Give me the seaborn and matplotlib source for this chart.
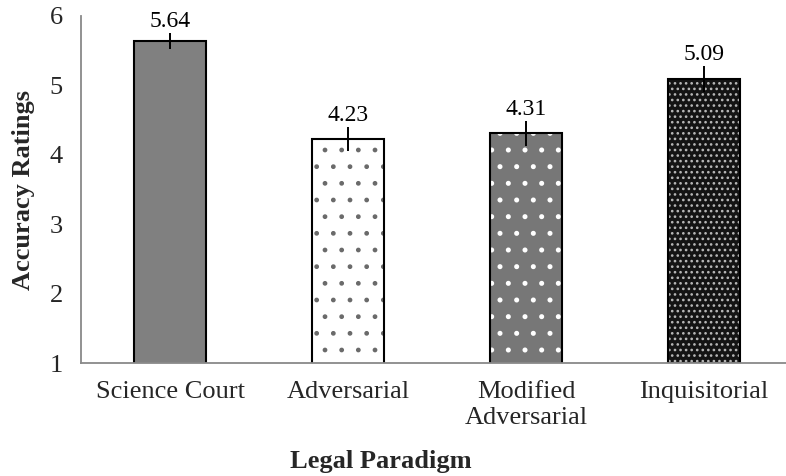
import matplotlib
matplotlib.use("Agg")
import matplotlib.pyplot as plt
import matplotlib.colors as mcolors
import seaborn as sns
import numpy as np
import pandas as pd

categories = ["Science Court", "Adversarial", "Modified\nAdversarial", "Inquisitorial"]
means = [5.64, 4.23, 4.31, 5.09]
errors = [0.12, 0.17, 0.18, 0.19]
labels = ["5.64", "4.23", "4.31", "5.09"]
yticks = [1, 2, 3, 4, 5, 6]

sns.set_theme(style="white")
plt.rcParams['font.family'] = ['Liberation Serif', 'DejaVu Serif']

df = pd.DataFrame({"cat": categories, "val": means})

W, H = 786, 476
fig = plt.figure(figsize=(W / 100, H / 100), dpi=100)
ax = fig.add_axes([81 / W, 1 - 363 / H, 712 / W, (363 - 16) / H])

sns.barplot(data=df, x="cat", y="val", ax=ax, width=0.41, errorbar=None,
            color="#808080", edgecolor="black", linewidth=1.5)

styles = [
    dict(face="#808080", hatch=None, hcol="black", hlw=1.0),
    dict(face="white", hatch=".", hcol="#6a6a6a", hlw=1.0),
    dict(face="#777777", hatch=".", hcol="white", hlw=1.2),
    dict(face="#141414", hatch="...", hcol="#b8b8b8", hlw=1.1),
]
for p, st in zip(ax.patches, styles):
    p.set_facecolor(st["face"])
    p.set_edgecolor("black")
    if st["hatch"]:
        p.set_hatch(st["hatch"])
        p._hatch_color = mcolors.to_rgba(st["hcol"])
        try:
            p.set_hatch_linewidth(st["hlw"])
        except Exception:
            p._hatch_linewidth = st["hlw"]

x = np.arange(len(categories))
ax.errorbar(x, means, yerr=errors, fmt="none", ecolor="black", elinewidth=1.4, capsize=0, zorder=5)
for xi, m, e, lab in zip(x, means, errors, labels):
    ax.annotate(lab, (xi, m + e), xytext=(0, 4), textcoords="offset points",
                ha="center", va="baseline", fontsize=17, color="black")

ax.set_ylim(1, 6)
ax.set_xlim(-0.5, 3.5)
ax.set_yticks(yticks)
ax.set_yticklabels([str(t) for t in yticks], fontsize=19)
ax.set_xticks(x)
ax.set_xticklabels(categories, fontsize=19, linespacing=1.25)
ax.tick_params(axis="x", which="major", length=4, width=1.2, color="#898989", direction="out", pad=9)
ax.set_xticks(np.arange(-0.5, 4.0, 1.0), minor=True)
ax.tick_params(axis="x", which="minor", length=4, width=1.2, color="#898989", direction="out")
ax.tick_params(axis="y", length=10, width=1.2, color="#898989", direction="inout", pad=8)

for s in ["top", "right"]:
    ax.spines[s].set_visible(False)
for s in ["left", "bottom"]:
    ax.spines[s].set_color("#898989")
    ax.spines[s].set_linewidth(1.3)

ax.set_ylabel("")
ax.set_xlabel("")
ax.grid(False)
fig.text(24 / W, 1 - 190 / H, "Accuracy Ratings", rotation=90, ha="center", va="center",
         fontsize=19, fontweight="bold")
fig.text(381 / W, 1 - 468 / H, "Legal Paradigm", ha="center", va="baseline",
         fontsize=19, fontweight="bold")

fig.savefig("out.png", dpi=100)
